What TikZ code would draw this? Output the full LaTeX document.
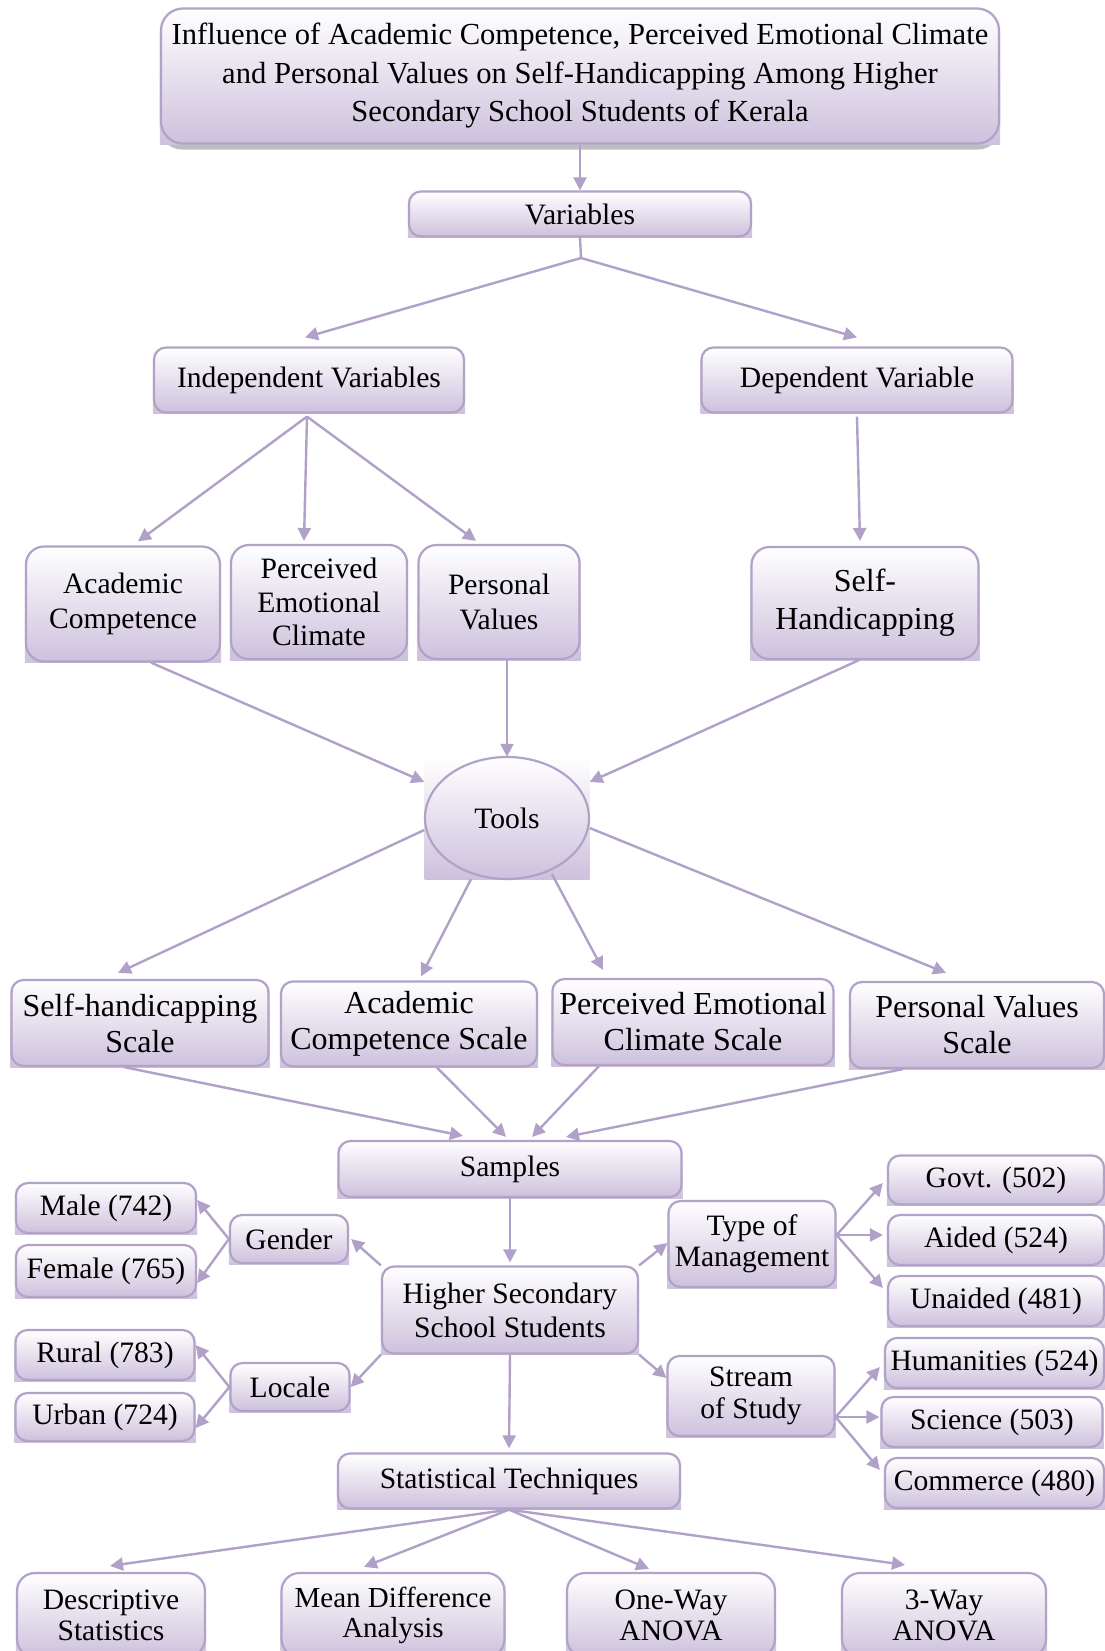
\documentclass[tikz,border=0pt]{standalone}
\usepackage{fontspec}
\setmainfont{Liberation Serif}
\usetikzlibrary{arrows.meta,backgrounds,calc}
\definecolor{lavb}{RGB}{178,162,199}
\definecolor{lavf}{RGB}{205,193,221}
\definecolor{lava}{RGB}{177,160,199}
\begin{document}
\begin{tikzpicture}[x=1pt,y=-1pt,
  nbox/.style={draw=lavb,line width=2.2pt,rounded corners=12pt,top color=white,bottom color=lavf,align=center,inner sep=0pt,font=\fontsize{29.6}{35}\selectfont},
  tall/.style={rounded corners=18pt},
  arr/.style={draw=lava,line width=2.4pt,-{Triangle[length=13pt,width=13pt]}},
  ln/.style={draw=lava,line width=2.4pt}]
\useasboundingbox (0,0) rectangle (1105,1651);
% nodes
\node[nbox,rounded corners=22pt,minimum width=838pt,minimum height=135pt,font=\fontsize{30.6}{38.5}\selectfont] (title) at (580,76) {Influence of Academic Competence, Perceived Emotional Climate\\and Personal Values on Self-Handicapping Among Higher\\Secondary School Students of Kerala};
\node[nbox,minimum width=342pt,minimum height=45pt] (vars) at (580,214) {Variables};
\node[nbox,minimum width=310pt,minimum height=65pt] (indep) at (309,380) {Independent Variables};
\node[nbox,minimum width=311pt,minimum height=65pt] (dep) at (857,380) {Dependent Variable};
\node[nbox,tall,minimum width=194pt,minimum height=115pt] (ac) at (123,604) {Academic\\Competence};
\node[nbox,tall,minimum width=176pt,minimum height=114pt,font=\fontsize{29.6}{33.5}\selectfont] (pec) at (319,602) {Perceived\\Emotional\\Climate};
\node[nbox,tall,minimum width=161pt,minimum height=114pt] (pv) at (499,602) {Personal\\Values};
\node[nbox,tall,minimum width=227pt,minimum height=112pt,font=\fontsize{32}{38}\selectfont] (sh) at (865,603) {Self-\\Handicapping};
\node[inner sep=0pt,minimum width=165pt,minimum height=122pt,top color=white,bottom color=lavf,font=\fontsize{29.6}{35}\selectfont] (tools) at (507,818) {Tools};
\draw[draw=lavb,line width=2.2pt] (tools.center) ellipse [x radius=82pt, y radius=61pt];
\node[nbox,minimum width=257pt,minimum height=86pt,font=\fontsize{32}{36}\selectfont] (shs) at (140,1023) {Self-handicapping\\Scale};
\node[nbox,minimum width=256pt,minimum height=85pt,font=\fontsize{32}{36}\selectfont] (acs) at (409,1024) {Academic\\Competence Scale};
\node[nbox,minimum width=281pt,minimum height=86pt,font=\fontsize{32}{36}\selectfont] (pecs) at (693,1022) {Perceived Emotional\\Climate Scale};
\node[nbox,minimum width=254pt,minimum height=86pt,font=\fontsize{32}{36}\selectfont] (pvs) at (977,1025) {Personal Values\\Scale};
\node[nbox,minimum width=343pt,minimum height=56pt] (samples) at (510,1169) {Samples};
\node[nbox,minimum width=256pt,minimum height=87pt,font=\fontsize{29.6}{34}\selectfont] (hsss) at (510,1310) {Higher Secondary\\School Students};
\node[nbox,minimum width=118pt,minimum height=48pt] (gender) at (289,1239) {Gender};
\node[nbox,minimum width=180pt,minimum height=50pt] (male) at (106,1208) {Male (742)};
\node[nbox,minimum width=180pt,minimum height=52pt] (female) at (106,1271) {Female (765)};
\node[nbox,minimum width=119pt,minimum height=48pt] (locale) at (290,1387) {Locale};
\node[nbox,minimum width=179pt,minimum height=50pt] (rural) at (105,1355) {Rural (783)};
\node[nbox,minimum width=179pt,minimum height=48pt] (urban) at (105,1417) {Urban (724)};
\node[nbox,minimum width=167pt,minimum height=86pt,font=\fontsize{29.6}{31.5}\selectfont] (tom) at (752,1244) {Type of\\Management};
\node[nbox,minimum width=216pt,minimum height=49pt] (govt) at (996,1180) {Govt. (502)};
\node[nbox,minimum width=216pt,minimum height=50pt] (aided) at (996,1240) {Aided (524)};
\node[nbox,minimum width=216pt,minimum height=50pt] (unaided) at (996,1301) {Unaided (481)};
\node[nbox,minimum width=167pt,minimum height=80pt,font=\fontsize{29.6}{32.5}\selectfont] (sos) at (751,1396) {Stream\\of Study};
\node[nbox,minimum width=219pt,minimum height=50pt] (hum) at (994.5,1363) {Humanities (524)};
\node[nbox,minimum width=221pt,minimum height=50pt] (sci) at (992,1422) {Science (503)};
\node[nbox,minimum width=219pt,minimum height=50pt] (com) at (994.5,1483) {Commerce (480)};
\node[nbox,minimum width=342pt,minimum height=55pt] (st) at (509,1481) {Statistical Techniques};
\node[nbox,tall,minimum width=188pt,minimum height=84pt,font=\fontsize{29.6}{31}\selectfont] (ds) at (111,1615) {Descriptive\\Statistics};
\node[nbox,tall,minimum width=223pt,minimum height=84pt,font=\fontsize{29}{30}\selectfont] (mda) at (393,1615) {Mean Difference\\Analysis};
\node[nbox,tall,minimum width=208pt,minimum height=84pt,font=\fontsize{29.6}{31}\selectfont] (owa) at (671,1615) {One-Way\\ANOVA};
\node[nbox,tall,minimum width=204pt,minimum height=84pt,font=\fontsize{29.6}{31}\selectfont] (twa) at (944,1615) {3-Way\\ANOVA};
% connectors
\coordinate (j1) at (581,258);
\draw[arr] (title.south) -- (vars.north);
\draw[ln] (vars.south) -- (j1);
\draw[arr] (j1) -- ([xshift=-4pt,yshift=9pt]indep.north);
\draw[arr] (j1) -- ([yshift=9pt]dep.north);
\draw[arr] ([xshift=-2pt,yshift=-3pt]indep.south) -- ([xshift=15pt,yshift=4pt]ac.north);
\draw[arr] ([xshift=-2pt,yshift=-3pt]indep.south) -- ([xshift=-15pt,yshift=3pt]pec.north);
\draw[arr] ([xshift=-2pt,yshift=-3pt]indep.south) -- ([xshift=-23pt,yshift=3pt]pv.north);
\draw[arr] ([yshift=-3pt]dep.south) -- ([xshift=-5pt,yshift=5pt]sh.north);
\draw[arr] ([xshift=28pt]ac.south) -- ([yshift=36pt]tools.west);
\draw[arr] (tools.north |- pv.south) -- (tools.north);
\draw[arr] ([xshift=-6pt]sh.south) -- ([yshift=36pt]tools.east);
\draw[arr] ([yshift=-12pt]tools.west) -- ([xshift=-22pt,yshift=6pt]shs.north);
\draw[arr] ([xshift=-36pt]tools.south) -- ([xshift=12pt,yshift=4pt]acs.north);
\draw[arr] ([xshift=45pt,yshift=5pt]tools.south) -- ([xshift=-90pt,yshift=8pt]pecs.north);
\draw[arr] ([yshift=-10pt]tools.east) -- ([xshift=-31pt,yshift=8pt]pvs.north);
\draw[arr] ([xshift=-16pt]shs.south) -- ([xshift=-47pt,yshift=4pt]samples.north);
\draw[arr] ([xshift=28pt]acs.south) -- ([xshift=-4pt,yshift=3pt]samples.north);
\draw[arr] ([xshift=-94pt]pecs.south) -- ([xshift=22pt,yshift=3pt]samples.north);
\draw[arr] ([xshift=-74pt]pvs.south) -- ([xshift=56pt,yshift=3pt]samples.north);
\draw[arr] (samples.south) -- ([yshift=3pt]hsss.north);
\draw[arr] (hsss.north west) -- ([xshift=2pt]gender.east);
\draw[arr] (gender.west) -- ([yshift=8pt]male.east);
\draw[arr] (gender.west) -- ([yshift=-12pt]female.east);
\draw[arr] (hsss.south west) -- (locale.east);
\draw[arr] (locale.west) -- ([yshift=10pt]rural.east);
\draw[arr] (locale.west) -- ([yshift=-11pt]urban.east);
\draw[arr] (hsss.north east) -- ([yshift=1pt]tom.west);
\draw[arr] (hsss.south east) -- ([yshift=18pt]sos.west);
\coordinate (tomo) at ([yshift=9pt]tom.east);
\draw[arr] (tomo) -- ([xshift=-4pt,yshift=-3pt]govt.west);
\draw[arr] (tomo) -- ([xshift=-4pt,yshift=5pt]aided.west);
\draw[arr] (tomo) -- ([xshift=-4pt,yshift=13pt]unaided.west);
\coordinate (soso) at ([yshift=-21pt]sos.east);
\draw[arr] (soso) -- ([xshift=-4pt,yshift=-4pt]hum.west);
\draw[arr] (soso) -- ([xshift=-1pt,yshift=5pt]sci.west);
\draw[arr] (soso) -- ([xshift=-4pt,yshift=13pt]com.west);
\draw[arr] (hsss.south) -- ([yshift=4pt]st.north);
\draw[arr] (st.south) -- ([xshift=-1pt,yshift=6pt]ds.north);
\draw[arr] (st.south) -- ([xshift=-29pt,yshift=5pt]mda.north);
\draw[arr] (st.south) -- ([xshift=-22pt,yshift=3pt]owa.north);
\draw[arr] (st.south) -- ([xshift=-39pt,yshift=7pt]twa.north);
% background: page, shadow, square fills
\begin{scope}[on background layer]
  \fill[white] (0,0) rectangle (1105,1651);
  \fill[gray!50,rounded corners=22pt] ([yshift=-5pt]title.south west) rectangle ([yshift=-5pt]title.north east);
  \foreach \n in {title,vars,indep,dep,ac,pec,pv,sh,shs,acs,pecs,pvs,samples,hsss,gender,male,female,locale,rural,urban,tom,govt,aided,unaided,sos,hum,sci,com,st,ds,mda,owa,twa}
    \shade[top color=white,bottom color=lavf] (\n.south west) rectangle (\n.north east);
\end{scope}
\end{tikzpicture}
\end{document}
